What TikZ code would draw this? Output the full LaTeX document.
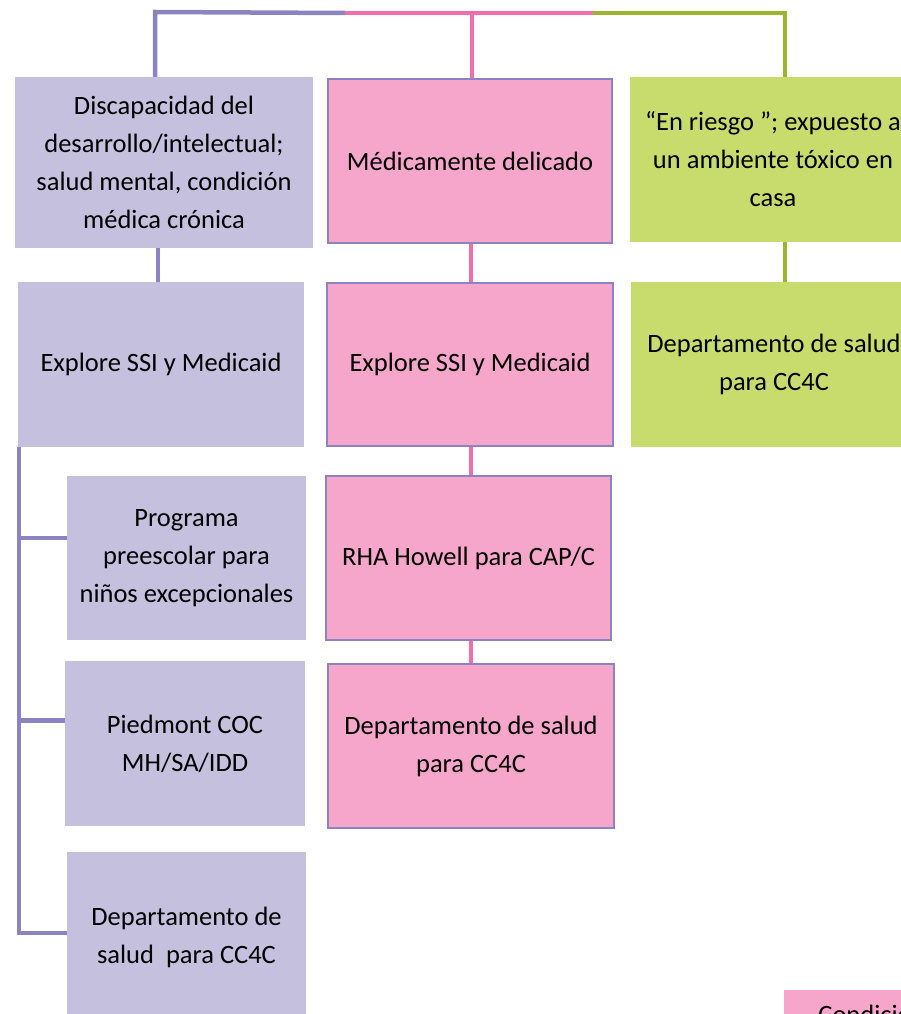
\documentclass[tikz,border=0pt]{standalone}
\usepackage{fontspec}
\setmainfont{Carlito}
\usepackage{tikz}
\definecolor{lilacfill}{RGB}{196,192,221}
\definecolor{lilacline}{RGB}{139,132,192}
\definecolor{rosefill}{RGB}{245,166,202}
\definecolor{roseline}{RGB}{240,110,169}
\definecolor{limefill}{RGB}{200,220,110}
\definecolor{limeline}{RGB}{155,181,46}
\tikzset{lilac style/.style={
		fill=lilacfill,
		rectangle,
		align=center,
		inner sep=0pt,
		font=\fontsize{26.5}{38}\selectfont,
	},
	rose style/.style={
		draw=lilacline,
		line width=2pt,
		fill=rosefill,
		rectangle,
		align=center,
		inner sep=0pt,
		font=\fontsize{26.5}{38}\selectfont,
	},
	lime style/.style={
		fill=limefill,
		rectangle,
		align=center,
		inner sep=0pt,
		font=\fontsize{26.5}{38}\selectfont,
	},
	box size/.style 2 args={
		minimum width=#1pt,
		minimum height=#2pt,
	},
	lilac line/.style={draw=lilacline, line width=4.5pt},
	rose line/.style={draw=roseline, line width=4.5pt},
	lime line/.style={draw=limeline, line width=4.5pt}
}

\begin{document}
\begin{tikzpicture}[x=1pt,y=-1pt]
	\useasboundingbox (0,0) rectangle (901,1014);
	
	% left column
	\node[lilac style, box size={298}{171}] (Discapacidad) at (164,162.5) {Discapacidad del\\desarrollo/intelectual;\\salud mental, condición\\médica crónica};
	\node[lilac style, box size={286}{165}] (ExploreL) at (161,364.5) {Explore SSI y Medicaid};
	\node[lilac style, box size={239}{164}] (Preescolar) at (186.5,558) {Programa\\preescolar para\\niños excepcionales};
	\node[lilac style, box size={240}{165}] (Piedmont) at (185,743.5) {Piedmont COC\\MH/SA/IDD};
	\node[lilac style, box size={239}{170}] (SaludL) at (186.5,937) {Departamento de\\salud\ \ para CC4C};
	
	% middle column
	\node[rose style, box size={284}{164}] (Delicado) at (470,161) {Médicamente delicado};
	\node[rose style, box size={286}{163}] (ExploreM) at (470,364.5) {Explore SSI y Medicaid};
	\node[rose style, box size={285}{164}] (Howell) at (468.5,558) {RHA Howell para CAP/C};
	\node[rose style, box size={286}{164}] (SaludM) at (471,746) {Departamento de salud\\para CC4C};
	
	% right column
	\node[lime style, box size={286}{165}] (Riesgo) at (773,159.5) {“En riesgo ”; expuesto a\\un ambiente tóxico en\\casa};
	\node[lime style, box size={286}{165}] (SaludR) at (774,364.5) {Departamento de salud\\para CC4C};
	
	% legend
	\node[fill=rosefill, box size={176}{48}, inner sep=0pt, font=\fontsize{26.5}{38}\selectfont] (Condicion) at (872,1014) {Condición};
	
	% top bar
	\coordinate (hubL) at (155,12);
	\coordinate (hubM) at (472,13);
	\coordinate (hubR) at (785,13);
	\coordinate (splitLM) at (345,13);
	\coordinate (splitMR) at (593,13);
	\draw[lilac line] (hubL |- Discapacidad.north) -- (hubL) -- (splitLM);
	\draw[rose line] (splitLM) -- (splitMR);
	\draw[rose line] (hubM) -- (hubM |- Delicado.north);
	\draw[lime line] (splitMR) -- (hubR) -- (hubR |- Riesgo.north);
	
	% column links
	\draw[lilac line] (Discapacidad.south -| 158,0) -- (ExploreL.north -| 158,0);
	\draw[rose line] (Delicado.south -| 471,0) -- (ExploreM.north -| 471,0);
	\draw[rose line] (ExploreM.south -| 471,0) -- (Howell.north -| 471,0);
	\draw[rose line] (Howell.south -| 471,0) -- (SaludM.north -| 471,0);
	\draw[lime line] (Riesgo.south -| hubR) -- (SaludR.north -| hubR);
	
	% bracket
	\coordinate (rail) at (19,0);
	\coordinate (bPre) at ([yshift=20pt]Preescolar.west);
	\coordinate (bPie) at ([yshift=23pt]Piedmont.west);
	\coordinate (bSal) at ([yshift=4pt]SaludL.west);
	\draw[lilac line] (ExploreL.south -| rail) |- (bSal);
	\draw[lilac line] (rail |- bPre) -- (bPre);
	\draw[lilac line] (rail |- bPie) -- (bPie);
\end{tikzpicture}
\end{document}
